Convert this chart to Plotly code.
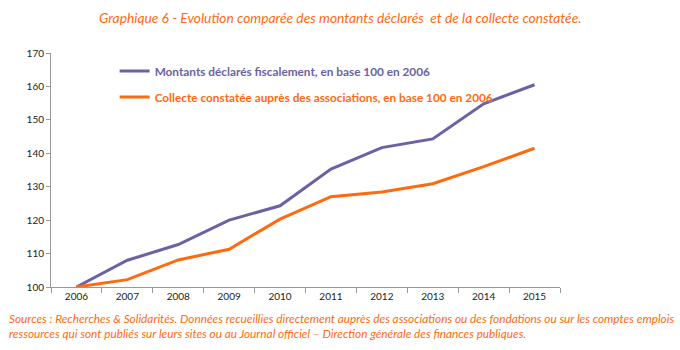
import plotly.graph_objects as go

years = ["2006", "2007", "2008", "2009", "2010", "2011", "2012", "2013", "2014", "2015"]
montants = [100, 108.0, 112.7, 120.0, 124.3, 135.3, 141.7, 144.3, 154.8, 160.5]
collecte = [100, 102.2, 108.1, 111.3, 120.3, 127.0, 128.4, 130.9, 136.0, 141.5]
yticks = [100, 110, 120, 130, 140, 150, 160, 170]
names = ["Montants déclarés fiscalement, en base 100 en 2006",
         "Collecte constatée auprès des associations, en base 100 en 2006"]

purple = "#6A62A3"
orange = "#FF6A0E"

fig = go.Figure()
fig.add_trace(go.Scatter(x=years, y=montants, mode="lines", legendgroup="a",
                         name=f"<b><span style='color:{purple}'>{names[0]}</span></b>",
                         line=dict(color=purple, width=3)))
fig.add_trace(go.Scatter(x=years, y=collecte, mode="lines", legendgroup="b",
                         name=f"<b><span style='color:{orange}'>{names[1]}</span></b>",
                         line=dict(color=orange, width=3)))

fig.update_layout(
    width=680, height=350,
    margin=dict(l=51, r=120, t=53, b=63),
    paper_bgcolor="white", plot_bgcolor="white",
    font=dict(family="Lato, Open Sans, sans-serif", size=10, color="#222"),
    showlegend=True,
    legend=dict(x=0.125, y=0.985, xanchor="left", yanchor="top",
                bgcolor="rgba(0,0,0,0)", itemwidth=30, tracegroupgap=7,
                traceorder="grouped",
                font=dict(family="Lato, sans-serif", size=11.8),
                itemclick=False),
    xaxis=dict(type="category", showgrid=False, showline=True, linecolor="#999",
               linewidth=1, ticks="outside", tickcolor="#999", ticklen=5,
               tickson="boundaries", tickfont=dict(size=10, color="#222"),
               range=[-0.5, 9.5]),
    yaxis=dict(range=[100, 170], tickvals=yticks, showgrid=False, showline=True,
               linecolor="#999", linewidth=1, ticks="outside", tickcolor="#999",
               ticklen=4, zeroline=False, tickfont=dict(size=10, color="#222")),
)

fig.add_annotation(text="<i>Graphique 6 - Evolution comparée des montants déclarés  et de la collecte constatée.</i>",
                   xref="paper", yref="paper", x=(340 - 51) / 509, y=1 + (53 - 17) / 234,
                   xanchor="center", yanchor="middle", showarrow=False,
                   font=dict(family="Lato, sans-serif", size=13.8, color=orange))
fig.add_annotation(text="<i>Sources : Recherches & Solidarités. Données recueillies directement auprès des associations ou des fondations ou sur les comptes emplois<br>ressources qui sont publiés sur leurs sites ou au Journal officiel – Direction générale des finances publiques.</i>",
                   xref="paper", yref="paper", x=(7 - 51) / 509, y=-(326 - 287) / 234,
                   xanchor="left", yanchor="middle", align="left", showarrow=False,
                   font=dict(family="Lato, sans-serif", size=11.8, color=orange))

fig.write_html("out.html")
